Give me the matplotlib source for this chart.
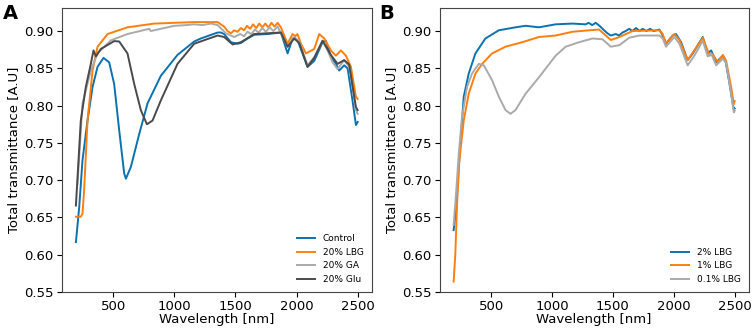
import matplotlib
matplotlib.use("Agg")
import matplotlib.pyplot as plt

# ---- panel A ----
ctrl_wl = [195, 222, 249, 290, 331, 372, 421, 467, 508, 549, 590, 604, 645, 713, 781, 890,
           1026, 1163, 1217, 1354, 1381, 1408, 1463, 1517, 1545, 1599, 1654, 1763, 1872, 1927,
           1968, 2008, 2090, 2145, 2213, 2240, 2281, 2322, 2349, 2390, 2418, 2458, 2486, 2500]
ctrl_t = [0.617, 0.664, 0.727, 0.780, 0.825, 0.852, 0.864, 0.858, 0.829, 0.767, 0.709, 0.702,
          0.718, 0.762, 0.803, 0.840, 0.868, 0.886, 0.890, 0.898, 0.898, 0.896, 0.885, 0.883,
          0.884, 0.890, 0.895, 0.896, 0.898, 0.870, 0.890, 0.888, 0.852, 0.860, 0.885, 0.887,
          0.866, 0.856, 0.847, 0.854, 0.850, 0.807, 0.774, 0.778]

lbg20_wl = [195, 222, 235, 249, 262, 290, 331, 372, 454, 617, 836, 1000, 1163, 1354, 1380,
            1408, 1435, 1463, 1490, 1517, 1545, 1570, 1595, 1620, 1645, 1670, 1695, 1720, 1745,
            1770, 1795, 1820, 1845, 1872, 1927, 1968, 1990, 2008, 2036, 2077, 2145, 2186, 2227,
            2281, 2322, 2363, 2404, 2445, 2486, 2500]
lbg20_t = [0.651, 0.651, 0.651, 0.655, 0.686, 0.780, 0.847, 0.879, 0.896, 0.905, 0.910, 0.911,
           0.912, 0.912, 0.909, 0.906, 0.900, 0.897, 0.901, 0.899, 0.904, 0.901, 0.907, 0.903,
           0.909, 0.904, 0.910, 0.905, 0.910, 0.905, 0.911, 0.906, 0.911, 0.905, 0.883, 0.896,
           0.893, 0.896, 0.883, 0.870, 0.876, 0.896, 0.890, 0.874, 0.867, 0.874, 0.867, 0.852,
           0.812, 0.809]

ga20_wl = [208, 249, 317, 372, 481, 617, 795, 808, 999, 1100, 1163, 1230, 1300, 1354, 1422,
           1490, 1540, 1570, 1599, 1630, 1660, 1690, 1720, 1750, 1780, 1810, 1845, 1927, 1981,
           2022, 2090, 2145, 2213, 2254, 2295, 2336, 2390, 2431, 2486, 2500]
ga20_t = [0.695, 0.803, 0.847, 0.870, 0.8875, 0.896, 0.903, 0.900, 0.907, 0.908, 0.909, 0.908,
          0.910, 0.908, 0.897, 0.892, 0.896, 0.893, 0.899, 0.896, 0.902, 0.898, 0.904, 0.899,
          0.905, 0.900, 0.906, 0.879, 0.892, 0.886, 0.854, 0.865, 0.887, 0.874, 0.858, 0.849,
          0.861, 0.852, 0.794, 0.789]

glu20_wl = [195, 235, 276, 317, 339, 358, 399, 508, 549, 617, 672, 726, 776, 822, 890, 1026,
            1163, 1354, 1408, 1477, 1545, 1654, 1872, 1927, 1981, 2022, 2090, 2145, 2213, 2281,
            2336, 2390, 2431, 2486, 2500]
glu20_t = [0.666, 0.780, 0.825, 0.856, 0.874, 0.866, 0.876, 0.8865, 0.886, 0.870, 0.829, 0.794,
           0.775, 0.780, 0.807, 0.856, 0.883, 0.894, 0.892, 0.882, 0.885, 0.896, 0.898, 0.879,
           0.890, 0.884, 0.852, 0.864, 0.887, 0.868, 0.856, 0.861, 0.855, 0.798, 0.794]

# ---- panel B ----
lbg2_wl = [192, 212, 234, 275, 316, 371, 453, 563, 700, 783, 893, 1030, 1167, 1277, 1300, 1330,
           1359, 1390, 1428, 1455, 1483, 1524, 1550, 1579, 1605, 1634, 1660, 1690, 1720, 1744,
           1775, 1805, 1835, 1881, 1903, 1936, 1991, 2018, 2060, 2114, 2156, 2238, 2279, 2307,
           2348, 2403, 2425, 2458, 2485, 2493, 2500]
lbg2_t = [0.633, 0.660, 0.718, 0.812, 0.843, 0.870, 0.890, 0.901, 0.905, 0.907, 0.905, 0.909,
          0.910, 0.909, 0.911, 0.908, 0.911, 0.907, 0.901, 0.897, 0.894, 0.896, 0.894, 0.898,
          0.900, 0.903, 0.900, 0.904, 0.900, 0.903, 0.900, 0.903, 0.900, 0.902, 0.896, 0.883,
          0.894, 0.896, 0.885, 0.861, 0.870, 0.892, 0.870, 0.874, 0.858, 0.867, 0.860, 0.829,
          0.802, 0.795, 0.796]

lbg1_wl = [192, 206, 220, 239, 275, 316, 371, 426, 508, 618, 755, 893, 1030, 1167, 1304, 1387,
           1428, 1483, 1538, 1607, 1661, 1881, 1909, 1936, 2005, 2046, 2114, 2169, 2238, 2266,
           2293, 2320, 2361, 2403, 2430, 2471, 2493, 2500]
lbg1_t = [0.564, 0.601, 0.668, 0.726, 0.780, 0.816, 0.843, 0.856, 0.870, 0.879, 0.885, 0.892,
          0.894, 0.899, 0.901, 0.902, 0.896, 0.888, 0.891, 0.896, 0.900, 0.901, 0.896, 0.884,
          0.896, 0.888, 0.861, 0.874, 0.891, 0.879, 0.867, 0.869, 0.858, 0.868, 0.860, 0.825,
          0.802, 0.806]

lbg01_wl = [192, 212, 234, 261, 302, 343, 398, 440, 508, 563, 618, 659, 700, 783, 893, 1030,
            1112, 1222, 1332, 1414, 1483, 1552, 1634, 1716, 1881, 1909, 1936, 2005, 2046, 2114,
            2169, 2238, 2279, 2307, 2348, 2403, 2430, 2471, 2493, 2500]
lbg01_t = [0.640, 0.682, 0.735, 0.785, 0.825, 0.843, 0.856, 0.854, 0.834, 0.812, 0.794, 0.789,
           0.794, 0.816, 0.838, 0.867, 0.879, 0.885, 0.890, 0.889, 0.879, 0.881, 0.891, 0.894,
           0.894, 0.890, 0.879, 0.892, 0.883, 0.854, 0.867, 0.887, 0.866, 0.870, 0.854, 0.863,
           0.857, 0.816, 0.791, 0.793]

BLUE = "#0a72b0"
ORANGE = "#ff7f0e"
LIGHT = "#aaaaaa"
DARK = "#4a4a4a"

fig = plt.figure(figsize=(7.54, 3.3), dpi=100)
ax1 = fig.add_axes([0.082, 0.115, 0.411, 0.861])
ax2 = fig.add_axes([0.583, 0.115, 0.410, 0.861])

ax1.plot(ctrl_wl, ctrl_t, color=BLUE, lw=1.4, label="Control")
ax1.plot(lbg20_wl, lbg20_t, color=ORANGE, lw=1.4, label="20% LBG")
ax1.plot(ga20_wl, ga20_t, color=LIGHT, lw=1.4, label="20% GA")
ax1.plot(glu20_wl, glu20_t, color=DARK, lw=1.4, label="20% Glu")

ax2.plot(lbg2_wl, lbg2_t, color=BLUE, lw=1.4, label="2% LBG")
ax2.plot(lbg1_wl, lbg1_t, color=ORANGE, lw=1.4, label="1% LBG")
ax2.plot(lbg01_wl, lbg01_t, color=LIGHT, lw=1.4, label="0.1% LBG")

for ax in (ax1, ax2):
    ax.set_ylim(0.55, 0.931)
    ax.set_yticks([0.55, 0.60, 0.65, 0.70, 0.75, 0.80, 0.85, 0.90])
    ax.set_xticks([500, 1000, 1500, 2000, 2500])
    ax.tick_params(labelsize=9.5, pad=2.5)
    ax.set_xlabel("Wavelength [nm]", fontsize=9.5, labelpad=0)
    ax.set_ylabel("Total transmittance [A.U]", fontsize=9.5, labelpad=3)
    ax.legend(loc="lower right", frameon=False, fontsize=6.5)
    for s in ax.spines.values():
        s.set_color("#444444")

fig.text(0.004, 0.988, "A", fontsize=14, fontweight="bold", va="top")
fig.text(0.503, 0.988, "B", fontsize=14, fontweight="bold", va="top")

fig.savefig("out.png", dpi=100)
